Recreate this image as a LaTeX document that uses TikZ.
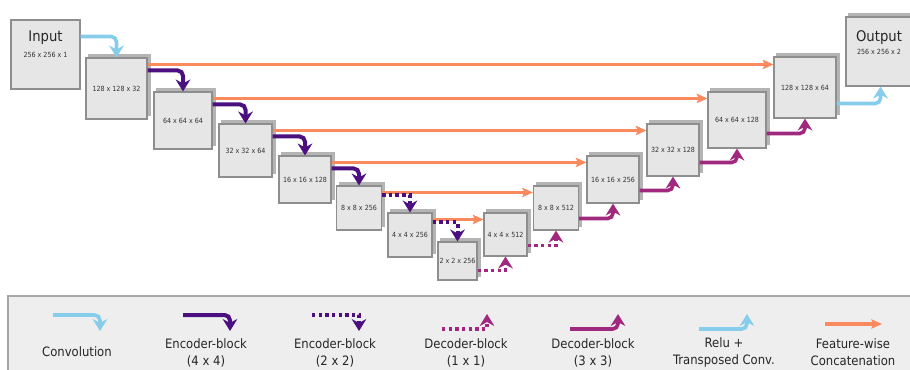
\documentclass[tikz,border=0pt]{standalone}
\usepackage{fontspec}
\setmainfont{DejaVu Sans Condensed}
\usepackage{tikz}
\usetikzlibrary{arrows.meta,shadows,calc}
\definecolor{convBlue}{HTML}{86CDEB}
\definecolor{encPurple}{HTML}{4B0F80}
\definecolor{decMagenta}{HTML}{A0287E}
\definecolor{catOrange}{HTML}{FA8A5E}
\definecolor{boxGray}{HTML}{E6E6E6}
\definecolor{edgeGray}{HTML}{8E8E8E}
\definecolor{backGray}{HTML}{B4B4B4}
\definecolor{legendGray}{HTML}{EEEEEE}
\definecolor{legendEdge}{HTML}{A6A6A6}

\begin{document}
\begin{tikzpicture}[x=0.75pt, y=-0.75pt,
    fmap/.style={draw=edgeGray, fill=boxGray, line width=0.8pt, inner sep=0pt, text=black!80, font=\fontsize{5.3}{6}\selectfont},
    stack/.style={fmap, copy shadow={shadow xshift=2.25pt, shadow yshift=2.7pt, draw=backGray, fill=backGray}},
    dims/.style 2 args={minimum width=#1*0.75pt, minimum height=#2*0.75pt},
    conv/.style={draw=convBlue, line width=2.7pt, rounded corners=4pt, -{Stealth[length=9pt,width=11pt,inset=3pt]}},
    enc/.style={draw=encPurple, line width=3pt, rounded corners=4pt, -{Stealth[length=9pt,width=11pt,inset=3pt]}},
    encd/.style={enc, sharp corners, dash pattern=on 2.6pt off 2.4pt},
    dec/.style={draw=decMagenta, line width=2.7pt, rounded corners=4pt, -{Stealth[length=9pt,width=11pt,inset=3pt]}},
    decd/.style={dec, sharp corners, dash pattern=on 2.6pt off 2.4pt},
    cat/.style={draw=catOrange, line width=2.3pt, -{Stealth[length=8pt,width=7pt,inset=1.5pt]}},
    legtxt/.style={font=\fontsize{9.7}{12.7}\selectfont, align=center, text=black!85},
    bigtxt/.style={font=\fontsize{11}{13}\selectfont, text=black!85},
    smalltxt/.style={font=\fontsize{5.3}{6}\selectfont, text=black!80},
  ]
  \useasboundingbox (0,0) rectangle (910,369);
  \clip (0,0) rectangle (910,369);

  % feature maps
  \node[fmap, dims={69}{69}] (in) at (45.5,54.5) {};
  \node[bigtxt] (inT) at (45.5,38) {Input};
  \node[smalltxt] (inS) at (45.5,55) {256 x 256 x 1};

  \node[stack, dims={61}{61}] (e1) at (116.5,88.5) {128 x 128 x 32};
  \node[stack, dims={58}{57}] (e2) at (183,120.5) {64 x 64 x 64};
  \node[stack, dims={53}{53}] (e3) at (245.5,150.5) {32 x 32 x 64};
  \node[stack, dims={52}{47}] (e4) at (305,179.5) {16 x 16 x 128};
  \node[stack, dims={45}{44}] (e5) at (359,208) {8 x 8 x 256};
  \node[stack, dims={44}{44}] (e6) at (410,235) {4 x 4 x 256};
  \node[stack, dims={39}{38}] (e7) at (457.5,261) {2 x 2 x 256};
  \node[stack, dims={43}{43}] (d1) at (505.5,234.5) {4 x 4 x 512};
  \node[stack, dims={45}{44}] (d2) at (556,208) {8 x 8 x 512};
  \node[stack, dims={52}{47}] (d3) at (613,179.5) {16 x 16 x 256};
  \node[stack, dims={52}{52}] (d4) at (673,150) {32 x 32 x 128};
  \node[stack, dims={58}{56}] (d5) at (737,120) {64 x 64 x 128};
  \node[stack, dims={62}{61}] (d6) at (805,87.5) {128 x 128 x 64};

  \node[stack, dims={69}{69}] (out) at (880.5,51.5) {};
  \node[bigtxt] (outT) at (879,37.5) {Output};
  \node[smalltxt] (outS) at (879,52) {256 x 256 x 2};

  % skip connections
  \foreach \a/\b in {e1/d6, e2/d5, e3/d4, e4/d3, e5/d2, e6/d1}
    \draw[cat] ([yshift=-5.25pt]\a.north east) coordinate (s) -- (s -| \b.west);

  % encoder
  \draw[conv] ([yshift=-12.75pt]in.north east) -| (e1.north);
  \foreach \a/\b in {e1/e2, e2/e3, e3/e4, e4/e5}
    \draw[enc] ([yshift=-9.75pt]\a.north east) -| (\b.north);
  \draw[encd] ([yshift=-7.5pt]e5.north east) -| (e6.north);
  \draw[encd] ([yshift=-7.5pt]e6.north east) -| (e7.north);

  % decoder
  \draw[decd] ([yshift=7.5pt]e7.south east) -| (d1.south);
  \draw[decd] ([yshift=8.25pt]d1.south east) -| (d2.south);
  \draw[dec] ([yshift=9pt]d2.south east) -| (d3.south);
  \draw[dec] ([yshift=9.75pt]d3.south east) -| (d4.south);
  \draw[dec] ([yshift=10.5pt]d4.south east) -| (d5.south);
  \draw[dec] ([yshift=11.25pt]d5.south east) -| (d6.south);
  \draw[conv] ([yshift=11.25pt]d6.south east) -| (out.south);

  % legend
  \draw[draw=legendEdge, fill=legendGray, line width=0.8pt] (8,296) rectangle (920,380);
  \foreach \st/\xa/\xb [count=\i] in {conv/53/100, enc/183/230, encd/312/359} {
    \coordinate (ka\i) at (\xa,315);
    \coordinate (kb\i) at (\xb,331);
    \draw[\st] (ka\i) -| (kb\i);
  }
  \foreach \st/\xa/\xb [count=\i from 4] in {decd/442/487, dec/570/618, conv/699/747} {
    \coordinate (ka\i) at (\xa,329);
    \coordinate (kb\i) at (\xb,314);
    \draw[\st] (ka\i) -| (kb\i);
  }
  \coordinate (ka7) at (825,324);
  \coordinate (kb7) at (882,324);
  \draw[cat] (ka7) -- (kb7);

  \node[legtxt] (t1) at (77,352) {Convolution};
  \node[legtxt] (t2) at (206,352.5) {Encoder-block\\(4 x 4)};
  \node[legtxt] (t3) at (335,352.5) {Encoder-block\\(2 x 2)};
  \node[legtxt] (t4) at (466,352.5) {Decoder-block\\(1 x 1)};
  \node[legtxt] (t5) at (593,352.5) {Decoder-block\\(3 x 3)};
  \node[legtxt] (t6) at (724,352.5) {Relu +\\Transposed Conv.};
  \node[legtxt] (t7) at (853,352.5) {Feature-wise\\Concatenation};
\end{tikzpicture}
\end{document}
